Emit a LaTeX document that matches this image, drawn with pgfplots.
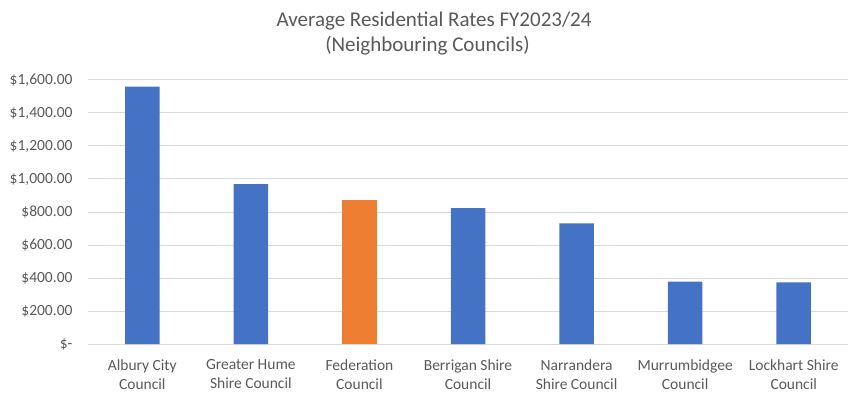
\documentclass[border=0pt]{standalone}
\usepackage{pgfplots}
\pgfplotsset{compat=1.18}
\usepackage{fontspec}
\setmainfont{Carlito}
\definecolor{xlblue}{HTML}{4472C4}
\definecolor{xlorange}{HTML}{ED7D31}
\definecolor{xlgrid}{HTML}{D9D9D9}
\definecolor{xltext}{HTML}{595959}
\begin{document}
\begin{tikzpicture}
\useasboundingbox (-88pt,-55pt) rectangle (771pt,344pt);
\begin{axis}[
  at={(0,0)}, anchor=south west,
  scale only axis,
  width=760pt, height=264pt,
  xmin=-0.5, xmax=6.5,
  ymin=0, ymax=1600,
  ytick={0,200,...,1600},
  yticklabels={\$-\hspace{7.7pt},\$200.00,\$400.00,\$600.00,\$800.00,\$1{,}000.00,\$1{,}200.00,\$1{,}400.00,\$1{,}600.00},
  xtick={0,...,6},
  xticklabels={{Albury City\\Council},{Greater Hume\\Shire Council},{Federation\\Council},{Berrigan Shire\\Council},{Narrandera\\Shire Council},{Murrumbidgee\\Council},{Lockhart Shire\\Council}},
  xticklabel style={align=center, font=\fontsize{15.5}{19.3}\selectfont, text=xltext, yshift=-12pt},
  yticklabel style={font=\fontsize{15.5}{19}\selectfont, text=xltext, xshift=-12pt},
  ymajorgrids,
  grid style={xlgrid, line width=1pt},
  axis line style={draw=none},
  major tick length=0pt,
  tick style={draw=none},
  clip=false,
]
\draw[xlgrid, line width=1pt] (axis cs:-0.5,0) -- (axis cs:6.5,0);
\addplot[ybar, bar width=34.5pt, bar shift=0pt, fill=xlblue, draw=none]
  coordinates {(0,1560) (1,969) (3,823) (4,731) (5,378) (6,373)};
\addplot[ybar, bar width=34.5pt, bar shift=0pt, fill=xlorange, draw=none]
  coordinates {(2,870)};
\end{axis}
\node[anchor=base, text=xltext, font=\fontsize{21}{25}\selectfont, inner sep=0pt] at (346pt,317.3pt) {Average Residential Rates FY2023/24};
\node[anchor=base, text=xltext, font=\fontsize{21}{25}\selectfont, inner sep=0pt] at (339.5pt,292.3pt) {(Neighbouring Councils)};
\end{tikzpicture}
\end{document}
